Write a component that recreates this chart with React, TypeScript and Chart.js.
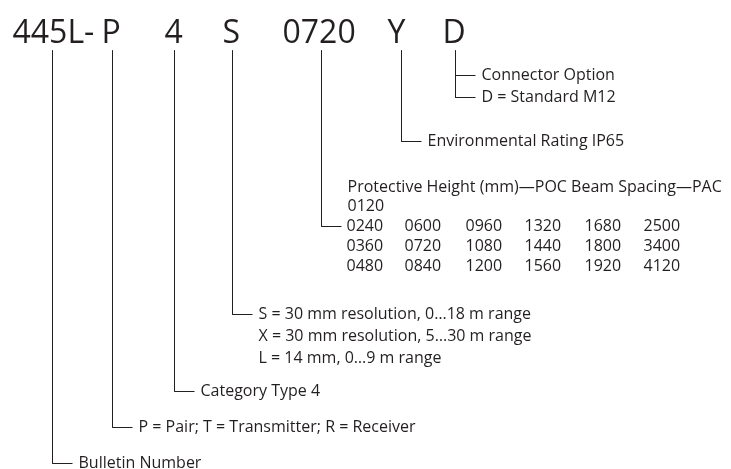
import React, { useEffect, useRef } from "react";
import { Chart, registerables } from "chart.js";

Chart.register(...registerables);

// Catalogue-number segments across the top
const codes = ["445L-", "P", "4", "S", "0720", "Y", "D"];
const codeLeft = [12, 101, 164, 222, 282, 387, 442];
// stem (leader) for each segment
const stemX = [52, 112, 174, 232, 321, 401, 455];
const stemTop = 50;
const stemBottom = [463, 427, 391, 314, 226, 141, 97];
const tickLen = 20;

// extra branch on the connector option stem
const branchY = [75];

// description text lines: [segment index, line y, text]
const descSegment = [6, 6, 5, 4, 4, 3, 3, 3, 2, 1, 0];
const descY = [75, 97, 141, 187, 206, 314, 336, 358, 391, 427, 463];
const descText = [
  "Connector Option",
  "D = Standard M12",
  "Environmental Rating IP65",
  "Protective Height (mm)—POC Beam Spacing—PAC",
  "0120",
  "S = 30 mm resolution, 0…18 m range",
  "X = 30 mm resolution, 5…30 m range",
  "L = 14 mm, 0…9 m range",
  "Category Type 4",
  "P = Pair; T = Transmitter; R = Receiver",
  "Bulletin Number",
];

// protective height table
const heightRowsY = [226, 246, 266];
const heightColsX = [346, 404, 465, 524, 584, 643];
const heightRows = [
  ["0240", "0600", "0960", "1320", "1680", "2500"],
  ["0360", "0720", "1080", "1440", "1800", "3400"],
  ["0480", "0840", "1200", "1560", "1920", "4120"],
];

const INK = "#231f20";
const FONT = "'Open Sans', 'Noto Sans', sans-serif";

export default function App() {
  const ref = useRef<HTMLCanvasElement | null>(null);

  useEffect(() => {
    document.body.style.margin = "0";
    const canvas = ref.current!;
    const datasets: any[] = [];
    stemX.forEach((x, i) => {
      datasets.push({
        data: [
          { x, y: stemTop },
          { x, y: stemBottom[i] },
          { x: x + tickLen, y: stemBottom[i] },
        ],
      });
    });
    branchY.forEach((y) => {
      datasets.push({
        data: [
          { x: stemX[6], y },
          { x: stemX[6] + tickLen, y },
        ],
      });
    });
    datasets.forEach((d) => {
      d.showLine = true;
      d.borderColor = INK;
      d.borderWidth = 1;
      d.pointRadius = 0;
      d.fill = false;
      d.tension = 0;
    });

    const textPlugin = {
      id: "diagramText",
      afterDatasetsDraw(chart: any) {
        const { ctx } = chart;
        const xs = chart.scales.x;
        const ys = chart.scales.y;
        ctx.save();
        ctx.fillStyle = INK;
        ctx.textAlign = "left";
        ctx.textBaseline = "alphabetic";
        ctx.font = `32px ${FONT}`;
        codes.forEach((c, i) => {
          ctx.fillText(c, xs.getPixelForValue(codeLeft[i]), ys.getPixelForValue(42));
        });
        ctx.font = `16px ${FONT}`;
        ctx.textBaseline = "middle";
        descText.forEach((t, i) => {
          const s = descSegment[i];
          const x = stemX[s] + tickLen + 6;
          ctx.fillText(t, xs.getPixelForValue(x), ys.getPixelForValue(descY[i]));
        });
        heightRows.forEach((row, r) => {
          row.forEach((v, c) => {
            ctx.fillText(v, xs.getPixelForValue(heightColsX[c]), ys.getPixelForValue(heightRowsY[r]));
          });
        });
        ctx.restore();
      },
    };

    const chart = new Chart(canvas, {
      type: "scatter",
      data: { datasets },
      options: {
        animation: false,
        responsive: false,
        maintainAspectRatio: false,
        layout: { padding: 0 },
        plugins: { legend: { display: false }, tooltip: { enabled: false } },
        scales: {
          x: { type: "linear", min: -0.5, max: 730.5, display: false },
          y: { type: "linear", min: -0.5, max: 468.5, reverse: true, display: false },
        },
      },
      plugins: [textPlugin],
    });
    return () => chart.destroy();
  }, []);

  return (
    <div style={{ width: 731, height: 469, background: "#fff" }}>
      <canvas ref={ref} width={731} height={469} style={{ display: "block" }} />
    </div>
  );
}
